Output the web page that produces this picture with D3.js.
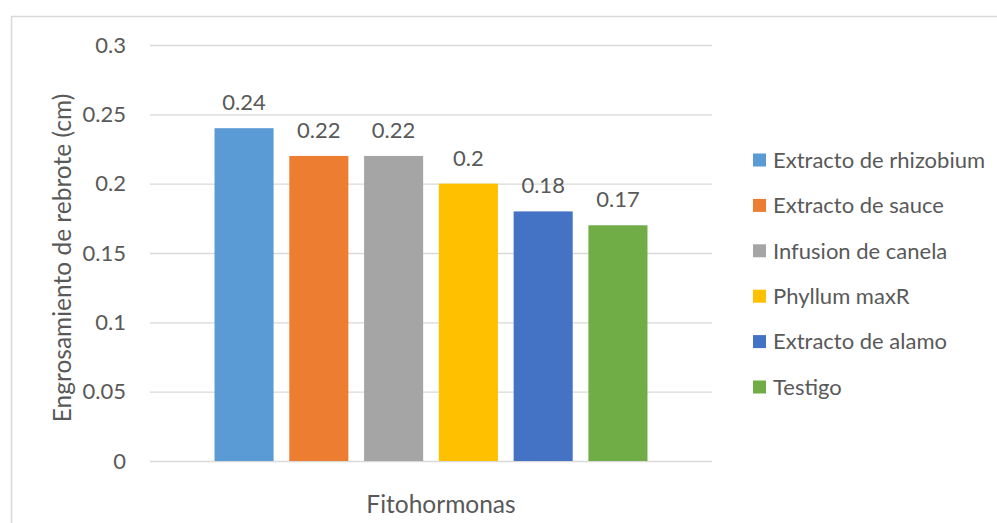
<!DOCTYPE html>
<html>
<head>
<meta charset="utf-8">
<script src="https://cdn.jsdelivr.net/npm/d3@7"></script>
<style>
  html, body { margin: 0; padding: 0; background: #fff; }
  svg { display: block; }
  text { font-family: Lato, "Open Sans", sans-serif; fill: #595959; }
</style>
</head>
<body>
<svg id="chart" width="997" height="523"></svg>
<script>
// Chart data
const category = "Fitohormonas";
const series = ["Extracto de rhizobium", "Extracto de sauce", "Infusion de canela", "Phyllum maxR", "Extracto de alamo", "Testigo"];
const values = [0.24, 0.22, 0.22, 0.2, 0.18, 0.17];
const colors = ["#5B9BD5", "#ED7D31", "#A5A5A5", "#FFC000", "#4472C4", "#70AD47"];
const yTicks = [0, 0.05, 0.1, 0.15, 0.2, 0.25, 0.3];
const yTitle = "Engrosamiento de rebrote (cm)";

const svg = d3.select("#chart");
const fs = 22;        // tick, value and legend text
const titleFs = 24.5; // axis titles

// Chart frame
svg.append("path")
  .attr("d", "M11.5,523 V16.5 H997")
  .attr("fill", "none")
  .attr("stroke", "#d9d9d9")
  .attr("stroke-width", 1.5);

const plot = { left: 150, right: 712, top: 45, bottom: 461 };

const y = d3.scaleLinear().domain([0, 0.3]).range([plot.bottom, plot.top]);

const x0 = d3.scaleBand().domain([category]).range([plot.left, plot.right])
  .paddingInner(0).paddingOuter(0.149);
const x1 = d3.scaleBand().domain(series).range([0, x0.bandwidth()])
  .paddingInner(0.21).paddingOuter(0);

// Gridlines and tick labels
const yAxis = d3.axisLeft(y).tickValues(yTicks)
  .tickSize(-(plot.right - plot.left))
  .tickPadding(24)
  .tickFormat(d => String(d));
const gy = svg.append("g").attr("transform", `translate(${plot.left},0)`).call(yAxis);
gy.select(".domain").remove();
gy.selectAll(".tick line").attr("stroke", "#d9d9d9").attr("stroke-width", 1.3);
gy.selectAll(".tick text")
  .attr("font-size", fs)
  .attr("fill", "#595959")
  .attr("font-family", "Lato, 'Open Sans', sans-serif");

// Bars
const g = svg.append("g").attr("transform", `translate(${x0(category)},0)`);
g.selectAll("rect").data(series).join("rect")
  .attr("x", d => x1(d))
  .attr("width", x1.bandwidth())
  .attr("y", (d, i) => y(values[i]))
  .attr("height", (d, i) => y(0) - y(values[i]))
  .attr("fill", (d, i) => colors[i]);

// Value labels
g.selectAll("text.val").data(series).join("text")
  .attr("class", "val")
  .attr("x", d => x1(d) + x1.bandwidth() / 2)
  .attr("y", (d, i) => y(values[i]) - 18)
  .attr("text-anchor", "middle")
  .attr("font-size", fs)
  .attr("fill", "#404040")
  .text((d, i) => String(values[i]));

// Axis titles
svg.append("text")
  .attr("x", 441)
  .attr("y", 513)
  .attr("text-anchor", "middle")
  .attr("font-size", titleFs)
  .text(category);

svg.append("text")
  .attr("transform", "translate(71,258) rotate(-90)")
  .attr("text-anchor", "middle")
  .attr("font-size", titleFs)
  .text(yTitle);

// Legend
const legend = svg.append("g").attr("transform", "translate(753,160)");
const items = legend.selectAll("g").data(series).join("g")
  .attr("transform", (d, i) => `translate(0,${i * 45.4})`);
items.append("rect")
  .attr("x", 0).attr("y", -6.5).attr("width", 13).attr("height", 13)
  .attr("fill", (d, i) => colors[i]);
items.append("text")
  .attr("x", 20).attr("y", 0)
  .attr("dy", "0.35em")
  .attr("font-size", fs)
  .text(d => d);
</script>
</body>
</html>
